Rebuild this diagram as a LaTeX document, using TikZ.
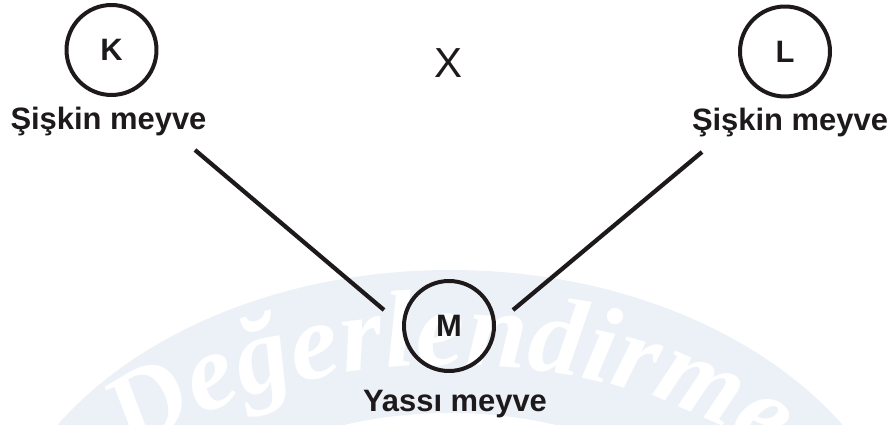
\documentclass[tikz,border=0pt]{standalone}
\usepackage{fontspec}
\setmainfont{Liberation Sans}
\newfontfamily\markfont{Liberation Serif}
\usepackage{tikz}
\usetikzlibrary{positioning, decorations.text}
\definecolor{markband}{RGB}{236, 240, 247}
\definecolor{inkdark}{RGB}{30, 26, 27}

\begin{document}
\begin{tikzpicture}[
    x=0.02cm, y=-0.02cm,
    plant/.style={circle, draw=inkdark, line width=0.08cm, minimum size=1.8cm, inner sep=0pt, text=inkdark, font=\fontsize{17.6}{20}\selectfont\bfseries},
    trait/.style={anchor=base, inner sep=0pt, text=inkdark, font=\fontsize{17.6}{20}\selectfont\bfseries},
    link/.style={line width=0.085cm, inkdark}
]
    \useasboundingbox (0,0) rectangle (893,425);

    % faint watermark band
    \begin{scope}
        \clip (0,0) rectangle (893,425);
        \fill[markband, even odd rule] (450,600) ellipse [x radius=463, y radius=330]
                                       (450,600) ellipse [x radius=300, y radius=187];
        \path[decorate, decoration={text along path, text align=center,
            text={|\markfont\itshape\bfseries\fontsize{62}{64}\selectfont\color{white}|Değerlendirme}}]
            (50,600) arc [start angle=180, end angle=360, x radius=400, y radius=235];
    \end{scope}

    \node[plant] (k) at (111.5, 50) {K};
    \node[plant] (l) at (785, 51.5) {L};
    \node[plant] (m) at (449, 326) {M};

    \node[trait] (klab) at (108.5, 130) {Şişkin meyve};
    \node[trait] (llab) at (790, 131) {Şişkin meyve};
    \node[trait] (mlab) at (455, 412) {Yassı meyve};

    \node[text=inkdark, inner sep=0pt, font=\fontsize{23.9}{26}\selectfont] (cross) at (448, 63) {X};

    \coordinate (k-end) at (195, 150);
    \coordinate (l-end) at (702, 152);
    \coordinate (m-left) at (384, 310);
    \coordinate (m-right) at (513, 310);

    \draw[link] (k-end) -- (m-left);
    \draw[link] (l-end) -- (m-right);
\end{tikzpicture}
\end{document}
